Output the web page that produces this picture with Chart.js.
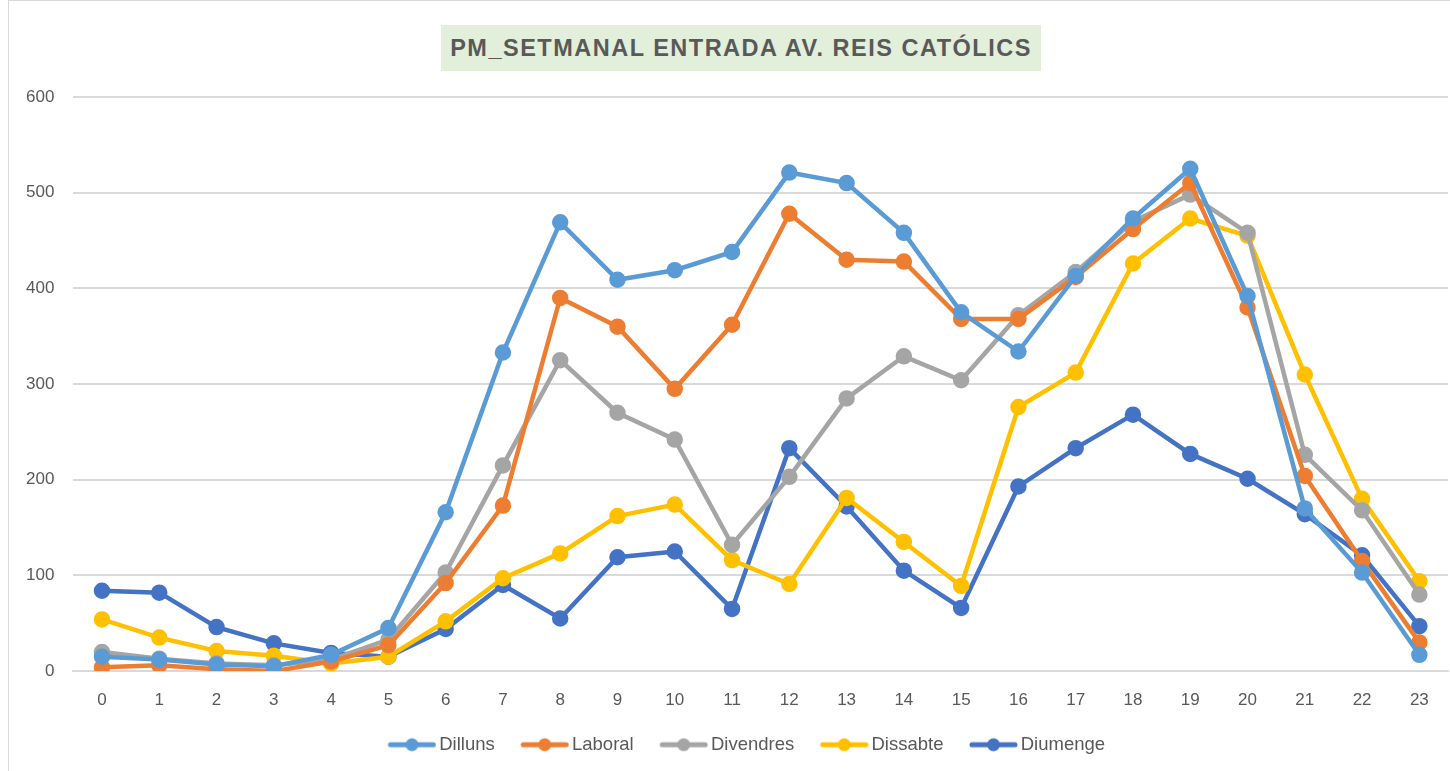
<!DOCTYPE html>
<html>
<head>
<meta charset="utf-8">
<script src="https://cdn.jsdelivr.net/npm/chart.js@4.4.1/dist/chart.umd.min.js"></script>
<style>
  html,body{margin:0;padding:0;background:#fff;overflow:hidden;width:1450px;height:771px;}
  #frame{position:absolute;left:8px;top:0;width:1442px;height:771px;box-sizing:border-box;border-left:1px solid #D9D9D9;border-top:1px solid #D9D9D9;}
  #c{position:absolute;left:9px;top:1px;display:block;}
  #title{position:absolute;left:441px;top:25px;width:600px;height:46px;background:#E2EFDA;color:#595959;
    font-family:'Liberation Sans','DejaVu Sans',sans-serif;font-weight:bold;font-size:23.5px;letter-spacing:1.5px;
    line-height:46px;text-align:center;white-space:nowrap;}
</style>
</head>
<body>
<div id="frame"></div>
<canvas id="c" width="1459" height="770"></canvas>
<div id="title"></div>
<script>
const hours = ["0","1","2","3","4","5","6","7","8","9","10","11","12","13","14","15","16","17","18","19","20","21","22","23"];
const dilluns   = [15,12,7,5,17,45,166,333,469,409,419,438,521,510,458,375,334,413,473,525,392,170,103,17];
const laboral   = [4,6,2,0,10,27,92,173,390,360,295,362,478,430,428,368,368,412,462,510,380,204,115,30];
const divendres = [20,13,8,6,12,33,103,215,325,270,242,132,203,285,329,304,372,417,470,498,458,226,168,80];
const dissabte  = [54,35,21,16,8,15,52,97,123,162,174,116,91,181,135,89,276,312,426,473,455,310,180,94];
const diumenge  = [84,82,46,29,19,15,44,90,55,119,125,65,233,172,105,66,193,233,268,227,201,164,121,47];
const seriesNames = ["Dilluns","Laboral","Divendres","Dissabte","Diumenge"];
const seriesData = [dilluns, laboral, divendres, dissabte, diumenge];
const seriesColors = ["#5B9BD5","#ED7D31","#A5A5A5","#FFC000","#4472C4"];
const titleText = "PM_SETMANAL ENTRADA AV. REIS CATÓLICS";
document.getElementById('title').textContent = titleText;

// legend icon: transparent margin on the left, visible line+dot (49px) on the right
function legendIcon(color){
  const cv = document.createElement('canvas');
  cv.width = 75; cv.height = 16;
  const g = cv.getContext('2d');
  g.strokeStyle = color; g.lineWidth = 5; g.lineCap = 'round';
  g.beginPath(); g.moveTo(29,8); g.lineTo(72,8); g.stroke();
  g.fillStyle = color; g.beginPath(); g.arc(50.5,8,6.5,0,Math.PI*2); g.fill();
  return cv;
}

const legendShift = {
  id:'legendShift',
  afterLayout(chart){
    if(chart.legend){ chart.legend.left += 9; chart.legend.right += 9; }
  }
};

new Chart(document.getElementById('c'), {
  type:'line',
  data:{
    labels: hours,
    datasets: seriesNames.map((n,i)=>({
      label:n,
      data:seriesData[i],
      borderColor:seriesColors[i],
      backgroundColor:seriesColors[i],
      pointBackgroundColor:seriesColors[i],
      pointBorderColor:seriesColors[i],
      borderWidth:4.5,
      pointRadius:6,
      pointHoverRadius:6,
      pointStyle:'circle',
      tension:0,
      fill:false
    }))
  },
  options:{
    responsive:false,
    animation:false,
    layout:{padding:{left:-2,right:20,top:96,bottom:7}},
    plugins:{
      title:{display:false},
      legend:{
        position:'bottom',
        labels:{
          color:'#595959',
          font:{family:"'Liberation Sans','DejaVu Sans',sans-serif",size:18.5},
          usePointStyle:true,
          pointStyleWidth:62,
          boxHeight:16,
          padding:6,
          generateLabels(chart){
            return chart.data.datasets.map((ds,i)=>({
              text:ds.label,
              fillStyle:ds.borderColor,
              strokeStyle:ds.borderColor,
              lineWidth:0,
              pointStyle:legendIcon(ds.borderColor),
              hidden:false,
              datasetIndex:i,
              fontColor:'#595959'
            }));
          }
        }
      },
      tooltip:{enabled:false}
    },
    scales:{
      x:{
        offset:true,
        grid:{display:false,drawTicks:false},
        border:{display:true,color:'#D9D9D9',width:2},
        ticks:{color:'#595959',font:{family:"'Liberation Sans','DejaVu Sans',sans-serif",size:17},padding:19,maxRotation:0}
      },
      y:{
        min:0,max:600,
        ticks:{stepSize:100,color:'#595959',font:{family:"'Liberation Sans','DejaVu Sans',sans-serif",size:17},padding:19},
        grid:{color:'#D9D9D9',lineWidth:2,drawTicks:false},
        border:{display:false}
      }
    }
  },
  plugins:[legendShift]
});
</script>
</body>
</html>
